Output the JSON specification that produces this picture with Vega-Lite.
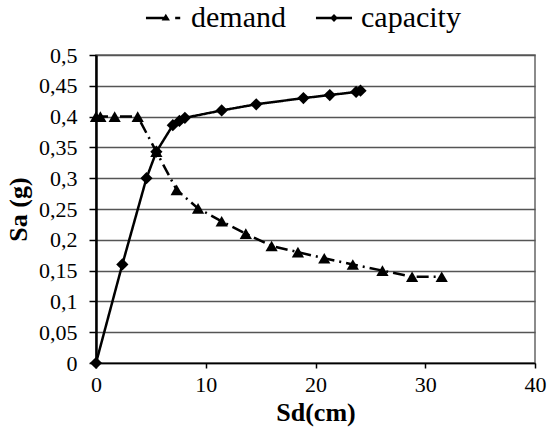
{
  "$schema": "https://vega.github.io/schema/vega-lite/v6.json",
  "width": 439,
  "height": 308,
  "autosize": "none",
  "padding": {"left": 96, "top": 55, "right": 13, "bottom": 69},
  "background": "white",
  "config": {
    "view": {"stroke": "#666666", "strokeWidth": 1.5},
    "font": "Liberation Serif, DejaVu Serif, serif"
  },
  "data": {
    "values": [
      {"series": "demand", "sd": 0, "sa": 0.4},
      {"series": "demand", "sd": 0.4, "sa": 0.4},
      {"series": "demand", "sd": 1.7, "sa": 0.4},
      {"series": "demand", "sd": 3.8, "sa": 0.4},
      {"series": "demand", "sd": 5.5, "sa": 0.343},
      {"series": "demand", "sd": 7.35, "sa": 0.281},
      {"series": "demand", "sd": 9.3, "sa": 0.251},
      {"series": "demand", "sd": 11.45, "sa": 0.23},
      {"series": "demand", "sd": 13.65, "sa": 0.21},
      {"series": "demand", "sd": 16.0, "sa": 0.19},
      {"series": "demand", "sd": 18.4, "sa": 0.18},
      {"series": "demand", "sd": 20.8, "sa": 0.17},
      {"series": "demand", "sd": 23.4, "sa": 0.16},
      {"series": "demand", "sd": 26.1, "sa": 0.15},
      {"series": "demand", "sd": 28.8, "sa": 0.14},
      {"series": "demand", "sd": 31.5, "sa": 0.14},
      {"series": "capacity", "sd": 0, "sa": 0},
      {"series": "capacity", "sd": 2.4, "sa": 0.16},
      {"series": "capacity", "sd": 4.6, "sa": 0.3},
      {"series": "capacity", "sd": 5.5, "sa": 0.343},
      {"series": "capacity", "sd": 7.0, "sa": 0.386},
      {"series": "capacity", "sd": 7.6, "sa": 0.393},
      {"series": "capacity", "sd": 8.1, "sa": 0.398},
      {"series": "capacity", "sd": 11.45, "sa": 0.41},
      {"series": "capacity", "sd": 14.6, "sa": 0.42},
      {"series": "capacity", "sd": 18.9, "sa": 0.43},
      {"series": "capacity", "sd": 21.3, "sa": 0.435},
      {"series": "capacity", "sd": 23.7, "sa": 0.44},
      {"series": "capacity", "sd": 24.1, "sa": 0.442}
    ]
  },
  "encoding": {
    "x": {
      "field": "sd", "type": "quantitative",
      "scale": {"domain": [0, 40], "nice": false, "zero": false},
      "axis": {
        "title": "Sd(cm)", "values": [0, 10, 20, 30, 40], "grid": false,
        "labelFlush": false,
        "domainColor": "black", "domainWidth": 1.5,
        "tickColor": "black", "tickWidth": 1.5, "tickSize": 5,
        "labelFont": "Liberation Serif, DejaVu Serif, serif", "labelFontSize": 22, "labelColor": "black", "labelPadding": 6,
        "titleFont": "Liberation Serif, DejaVu Serif, serif", "titleFontSize": 26, "titleFontWeight": "bold", "titleColor": "black", "titlePadding": 4
      }
    },
    "y": {
      "field": "sa", "type": "quantitative",
      "scale": {"domain": [0, 0.5], "nice": false},
      "axis": {
        "title": "Sa (g)",
        "values": [0, 0.05, 0.1, 0.15, 0.2, 0.25, 0.3, 0.35, 0.4, 0.45, 0.5],
        "format": "~g",
        "labelExpr": "replace(datum.label, '.', ',')",
        "labelFlush": false,
        "grid": true, "gridColor": "#555555", "gridWidth": 1.5,
        "domainColor": "black", "domainWidth": 2.5,
        "tickColor": "black", "tickWidth": 1.5, "tickSize": 7,
        "labelFont": "Liberation Serif, DejaVu Serif, serif", "labelFontSize": 22, "labelColor": "black", "labelPadding": 12,
        "titleFont": "Liberation Serif, DejaVu Serif, serif", "titleFontSize": 26, "titleFontWeight": "bold", "titleColor": "black", "titlePadding": 7
      }
    }
  },
  "layer": [
    {
      "mark": {"type": "line", "color": "black", "strokeWidth": 2.5},
      "encoding": {
        "order": {"field": "sd", "type": "quantitative"},
        "strokeDash": {
          "field": "series", "type": "nominal",
          "scale": {"domain": ["demand", "capacity"], "range": [[12, 5, 2, 5], [1, 0]]},
          "legend": null
        }
      }
    },
    {
      "mark": {"type": "point", "filled": true, "color": "black", "opacity": 1, "size": 150},
      "encoding": {
        "shape": {
          "field": "series", "type": "nominal",
          "scale": {"domain": ["demand", "capacity"], "range": ["triangle-up", "diamond"]},
          "legend": null
        }
      }
    },
    {
      "mark": {"type": "point", "filled": true, "color": "black", "opacity": 0, "size": 1300},
      "encoding": {
        "shape": {
          "field": "series", "type": "nominal",
          "scale": {
            "domain": ["demand", "capacity"],
            "range": [
              "M-1,-0.065H0V0.065H-1ZM0.1,-0.24L0.33,0.14L-0.13,0.14ZM0.62,-0.065H0.9V0.065H0.62Z",
              "M-1,-0.065H1V0.065H-1ZM0,-0.22L0.22,0L0,0.22L-0.22,0Z"
            ]
          },
          "legend": {
            "title": null,
            "orient": "none",
            "legendX": 49,
            "legendY": -56,
            "direction": "horizontal",
            "symbolSize": 1300,
            "symbolOpacity": 1,
            "symbolFillColor": "black",
            "labelFont": "Liberation Serif, DejaVu Serif, serif",
            "labelFontSize": 30,
            "labelColor": "black",
            "labelOffset": 8,
            "columnPadding": 26,
            "labelLimit": 300
          }
        }
      }
    }
  ],
  "resolve": {"scale": {"shape": "independent"}}
}
